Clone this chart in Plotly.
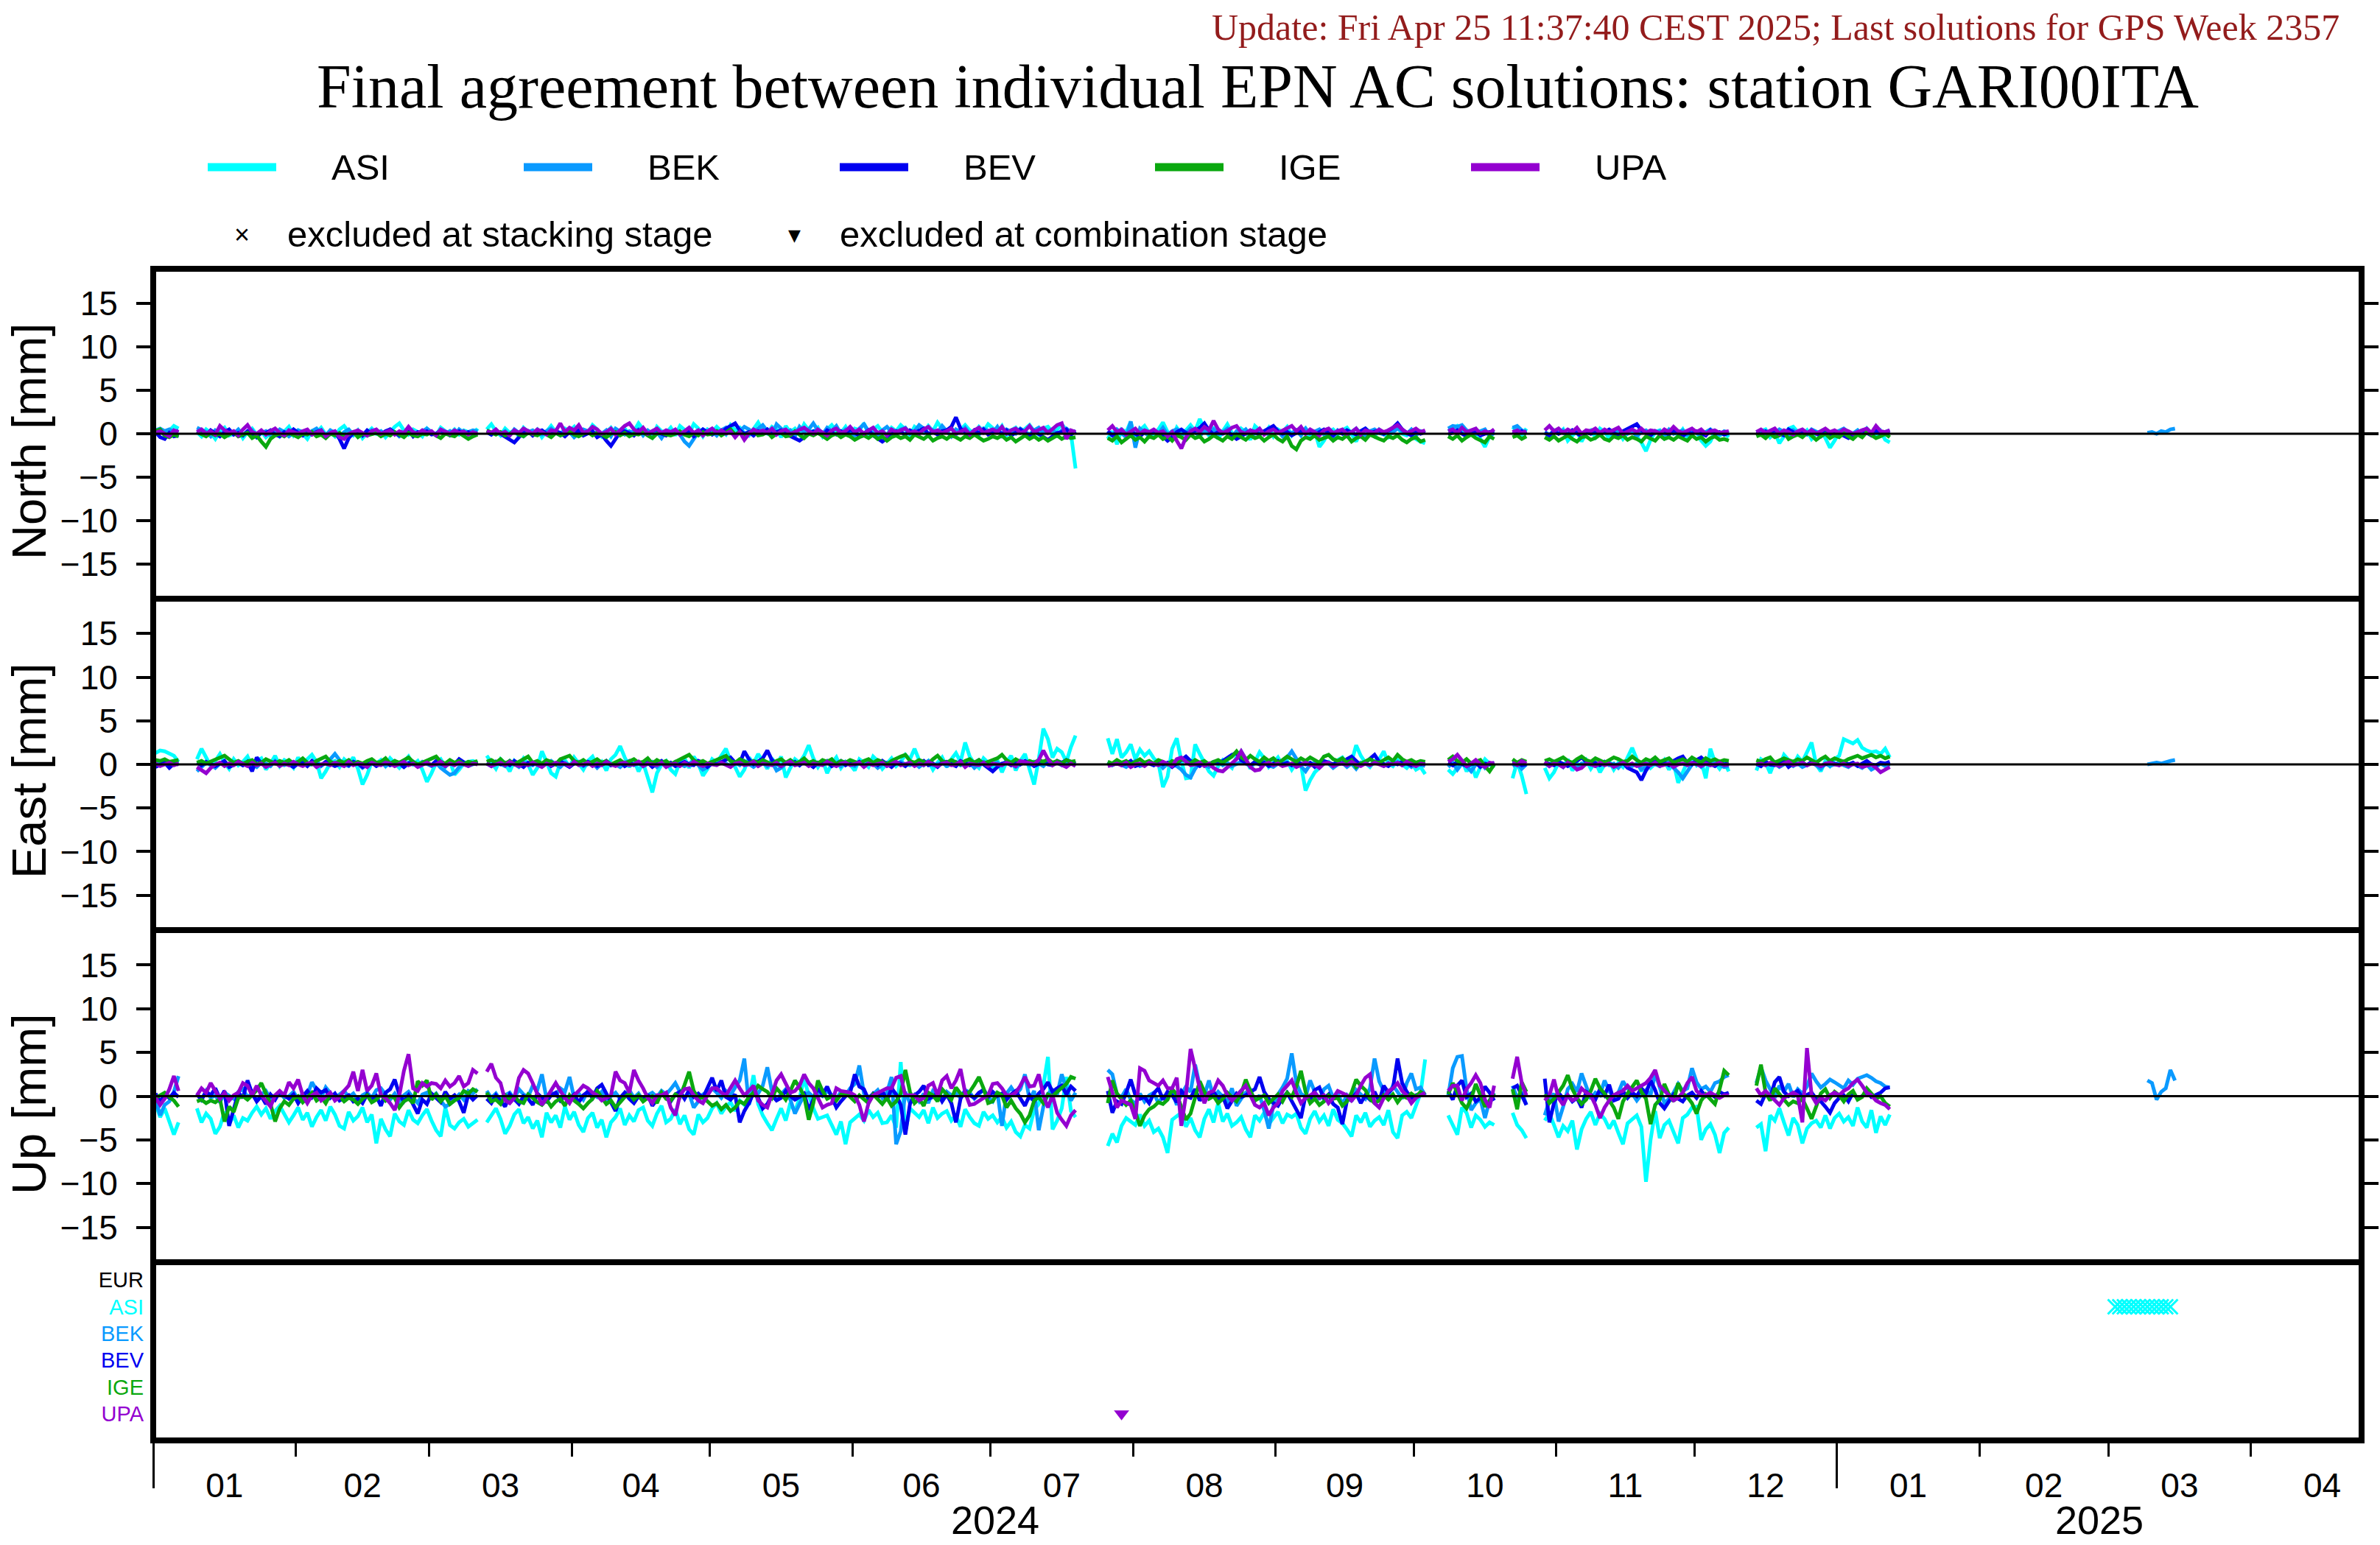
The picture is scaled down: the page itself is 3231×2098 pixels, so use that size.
import pandas as pd
import plotly.graph_objects as go

# ---------------------------------------------------------------- data
# Daily solutions (12:00) are grouped in continuous segments.
SEG_FIRST = ["2024-01-01", "2024-01-10", "2024-03-13", "2024-07-26", "2024-10-08",
             "2024-10-22", "2024-10-29", "2024-12-14", "2025-03-09"]
SEG_LAST = ["2024-01-06", "2024-03-11", "2024-07-19", "2024-10-03", "2024-10-18",
            "2024-10-25", "2024-12-08", "2025-01-12", "2025-03-15"]

ACS = ["ASI", "BEK", "BEV", "IGE", "UPA"]
EXCL_ROWS = ["EUR", "ASI", "BEK", "BEV", "IGE", "UPA"]
ASI_STACK_EXCL = ["2025-03-02", "2025-03-03", "2025-03-04", "2025-03-05", "2025-03-06",
                  "2025-03-07", "2025-03-08", "2025-03-09", "2025-03-10", "2025-03-11",
                  "2025-03-12", "2025-03-13", "2025-03-14"]
UPA_COMB_EXCL = ["2024-07-29"]
MONTH_TICK0 = "2024-01-01"
YEAR_LABELS = ["2024", "2025"]
YEAR_LABEL_AT = ["2024-07-02", "2025-02-27"]
Y_TICKS = [-15, -10, -5, 0, 5, 10, 15]

# residuals in tenths of a millimetre, one list per segment
N_ASI = [
    [3, 5, -2, 4, 9, 6],
    [2, -3, 5, 1, -6, 3, 7, -2, 0, 4, -5, 2, 6, -1, 3, -4, 1, 5, -3, 2,
     8, -2, 4, 0, -6, 3, 1, 7, -1, 2, -3, 5, 9, 2, -2, 4, -5, 1, 6, 0,
     3, -4, 2, 8, 12, 4, -1, 5, 2, -3, 6, 1, -2, 7, 3, 0, 5, -1, 4, 2, -2, 6],
    [5, 11, 3, -2, 6, 1, 4, -3, 7, 2, 0, 5, -4, 3, 9, 2, -1, 6, 3, 8,
     -2, 4, 1, 10, 5, -3, 2, 7, 0, 4, 6, -1, 3, 12, 5, 2, -4, 8, 3, 1,
     7, -2, 9, 4, 0, 11, 6, -3, 5, 2, 8, 3, -1, 10, 4, 7, 1, -2, 6, 13,
     3, 0, 8, 5, -4, 9, 2, 6, -1, 11, 4, 2, 7, -3, 5, 10, 3, 1, 8, -2,
     6, 4, 12, 0, 5, 9, 2, -1, 7, 3, 10, 5, -2, 8, 4, 1, 9, 3, 13, 6,
     2, 7, -1, 5, 10, 4, 0, 8, 3, 11, 6, 2, 9, -2, 4, 7, 1, 5, 10, 3,
     -1, 6, 8, 2, 5, 11, 4, 0, -40],
    [-6, 3, -12, 5, 2, 14, -8, 4, 9, 1, -3, 6, 13, 2, -5, 7, 0, 4, 10, 3,
     17, 5, -2, 8, -6, 3, 11, 1, -4, 6, 2, -7, 9, 4, 0, 7, -3, 5, 2, 8,
     -2, 4, 1, 6, -5, 3, -15, -8, 2, 5, -1, 4, 7, 0, -9, 3, 6, 2, -3, 5,
     1, -4, 3, 7, 0, -2, 4, -6, -9, -11],
    [3, 6, 9, 4, -2, 1, 5, -6, -15, -3, 2],
    [8, 3, -2, 6],
    [2, -3, 4, 0, 5, -8, -2, 3, -9, 1, 4, -4, 6, 2, -5, 0, 3, -6, 1, 5,
     -3, -10, -20, -7, 2, 4, -5, 1, 3, -2, 5, -4, 0, 2, -8, -14, -9, 3, -2, 1, -4],
    [-2, 3, 5, -4, 1, -11, -3, 6, 8, 2, -1, 4, -6, 0, 3, -5, -16, -8, 2, 5,
     -3, 1, 4, -2, 6, 0, -4, 3, -7, -10],
]
N_BEK = [
    [4, 6, 3, 5, 2, 4],
    [7, 5, 2, -3, 4, 1, -2, 3, 0, 5, -1, 2, 4, -4, 1, 3, -2, 0, 5, 2,
     -3, 1, 4, 2, -1, 3, 6, 0, -2, 4, 1, -4, 2, 5, -1, 3, 0, -2, 4, 1,
     3, -1, 5, 2, -3, 0, 4, 1, -2, 3, 6, 2, -1, 4, 0, 3, -2, 5, 1, 2, 4, 3],
    [2, -1, 4, 0, 3, -2, 5, 1, -3, 2, 4, 0, -1, 3, 6, 1, -2, 4, 2, -4,
     1, 5, 3, -1, 2, 0, 4, -3, 6, 2, -1, 3, 1, 5, -2, 4, 0, 2, -5, 3,
     1, 4, -1, -9, -14, -6, 2, 5, 0, 3, -2, 4, 7, 1, -1, 3, 8, 5, 0, 6,
     10, 3, -2, 11, 6, 1, 4, -3, 8, 2, 5, 12, 4, -1, 7, 3, 9, 0, 5, 2,
     -2, 6, 11, 3, 1, -4, 4, 8, 2, -1, 5, 7, 0, 3, 10, 6, -2, 4, 1, 9,
     3, -3, 5, 2, 7, 0, 4, -1, 6, 3, 1, 8, -2, 5, 3, 0, 6, 2, -1, 4,
     7, 1, 3, 5, -2, 4, 6, 2, 3],
    [3, -2, 5, 1, -4, 14, -16, 6, 2, -3, 4, 0, 7, -1, 3, 5, -2, 1, 6, 2,
     -3, 4, 0, 5, -1, 2, 6, -4, 3, 1, 5, -2, 0, 4, 2, -1, 7, 3, -3, 2,
     1, 4, -2, 6, 0, 3, 5, -1, 2, -4, 4, 1, -3, 2, 6, 0, -2, 3, 5, 1,
     -1, 4, 2, 6, 3, 0, 5, -2, 3, 1],
    [6, 9, 8, 10, 4, 2, -1, 3, 5, -3, 1],
    [7, 9, 4, 2],
    [2, -1, 3, 0, 4, -2, 1, 5, -3, 2, 0, 3, -1, 4, 2, -2, 5, 1, 0, 3,
     -3, 2, 4, -1, 1, 3, -2, 5, 0, 2, 4, -1, 3, 1, -2, 2, 5, 0, -1, 3, 1],
    [2, 4, -1, 3, 0, 5, 2, -2, 4, 1, 3, -1, 5, 2, 0, 4, -3, 1, 3, 6,
     2, 0, 4, -2, 3, 1, 5, -1, 2, 4],
    [1, 2, 0, 3, 2, 5, 6],
]
N_BEV = [
    [2, -4, -6, 1, -3, -2],
    [3, 1, -2, 4, 0, -3, 2, 5, -1, 1, -2, 3, 0, -4, 2, 1, 4, -1, -3, 2,
     0, 5, 1, -2, 3, -1, 2, 4, -3, 0, 2, -6, -17, -5, 1, 3, -2, 4, 0, 2,
     -1, 3, 5, 1, -2, 0, 4, -3, 2, 1, 3, -1, 0, 4, 2, -2, 1, 3, 0, 2, -1, 1],
    [2, -1, 3, 0, -3, -6, -10, -4, 1, 3, -2, 2, 4, 0, -1, 3, 1, -3, 2, 0,
     4, -2, 1, 3, -4, -1, -8, -14, -6, 2, 3, 0, -2, 4, 1, -1, 3, 5, 0, -2,
     2, 4, -1, 1, 3, -3, 0, 5, 2, -1, 3, 1, 6, 9, 12, 4, 0, 2, -2, 3,
     1, 5, -1, 2, 4, 0, -3, -5, -8, -4, 0, 3, 1, -2, 4, 2, -1, 3, 0, 5,
     2, -3, 1, 4, -2, -6, -9, -5, 0, 3, 2, -1, 4, 1, 3, 6, 0, 2, -1, 3,
     4, 8, 19, 6, 2, -2, 4, 1, 5, -1, 2, 3, 0, 4, -2, 2, 5, 1, -3, 3,
     0, -4, -7, -3, 1, 2, 5, -1, 3],
    [3, -2, 1, 4, -1, 2, 0, -3, 2, 1, 4, -1, -3, -8, -4, 2, 5, 1, 0, 3,
     7, 12, 4, -1, 2, 0, 3, -2, -6, -3, 1, 4, 2, -1, 3, 6, 9, 3, 0, 2,
     -2, 1, 4, 0, 3, -1, 2, 5, 1, -2, 3, 0, 4, 2, -1, 3, 6, 1, 2, 4,
     0, 3, 7, 12, 5, 1, -2, 3, 0, 2],
    [-1, 2, 4, 0, -3, 1, 3, -2, 0, 2, 1],
    [2, -1, 3, 0],
    [1, -2, 3, 0, 2, -1, 4, 1, -3, 2, 0, 3, -1, 2, 5, 1, -2, 3, 6, 8,
     11, 4, 1, -2, 3, 0, 2, -1, 4, 1, -3, 2, 0, 3, 1, -2, 4, 0, 2, -1, 1],
    [2, -1, 3, 1, 4, 0, -2, 5, 2, -1, 3, 0, 4, 1, -3, 2, -1, 3, 0, -2,
     -5, -1, 2, 4, 1, -2, 3, 0, 2, 1],
]
N_IGE = [
    [3, 5, -2, -4, -1, -3],
    [2, -1, -3, 1, -2, 0, -4, -1, 2, -3, -1, 1, -5, -2, -9, -15, -6, -2, 0, -3,
     1, -2, -4, 0, -1, 2, -3, -1, -5, 0, -2, 1, -3, -1, 2, -4, 0, -2, -1, 1,
     -3, 0, -2, 2, -1, -4, 1, -2, -3, 0, -1, 2, -2, -5, 0, -1, -3, 1, -2, -6, -3, -1],
    [4, 1, -1, 2, -2, 0, 3, -1, -3, 1, 0, -2, 2, -1, -4, 1, -2, 0, 3, -1,
     -3, 0, 2, -2, 1, -1, -4, 0, 2, -2, 1, -3, 0, -1, 2, -2, -5, 0, 1, -1,
     -2, 0, 3, -1, -3, 1, -2, 2, -1, 0, 3, -2, 1, 5, -1, 2, -3, 0, 4, -2,
     -1, 2, -4, 0, 1, -3, -2, 3, -1, -5, 0, -2, 1, -3, -6, -2, 0, -4, -1, -3,
     -7, -4, -2, -5, -1, -6, -3, -8, -4, -2, -5, -3, -7, -1, -4, -6, -2, -8, -5, -3,
     -6, -2, -4, -7, -3, -5, -1, -4, -8, -6, -3, -5, -2, -7, -4, -9, -5, -2, -6, -3,
     -7, -4, -8, -5, -2, -6, -3, -5, -4],
    [-5, -8, -3, -10, -6, -2, -7, -4, -9, -3, -5, -1, -6, -3, -8, -2, -4, -7, -1, -5,
     -3, -9, -6, -2, -5, -8, -3, -6, -1, -4, -7, -2, -5, -3, -8, -4, -1, -6, -9, -3,
     -14, -18, -8, -4, -6, -2, -7, -5, -3, -8, -4, -6, -2, -9, -5, -3, -7, -1, -4, -6,
     -8, -3, -5, -2, -7, -10, -6, -4, -9, -7],
    [-3, -6, -2, -8, -4, -1, -5, -7, -10, -3, -6],
    [-4, -2, -6, -3],
    [-4, -7, -3, -8, -5, -2, -6, -9, -4, -3, -7, -5, -1, -6, -8, -3, -5, -2, -7, -4,
     -6, -9, -3, -5, -8, -2, -6, -4, -7, -3, -5, -8, -2, -6, -4, -9, -5, -3, -7, -6, -8],
    [-3, -1, -5, 0, -4, -2, 2, -6, -3, -1, -4, 1, -2, -7, -3, 0, -5, -2, -4, 1,
     -3, -6, -1, -4, 2, -2, -5, -3, 0, -4],
]
N_UPA = [
    [1, 3, 0, -3, 4, 2],
    [2, 5, 0, 3, -1, 9, 4, 1, 3, -2, 5, 10, 2, 0, 4, -1, 3, 6, 1, -2,
     4, 2, 0, 3, 5, -1, 2, 4, -3, 1, 3, -4, -6, 0, 2, 4, 1, -2, 3, 5,
     0, 2, 4, -1, 3, 1, 8, 2, 0, 4, 1, 3, -2, 5, 2, 0, 4, 1, 3, -1, 2, 0],
    [3, 1, 5, 0, 2, -2, 4, 1, 6, 3, 0, 5, 2, -1, 4, 3, 12, 2, 7, 4,
     10, 1, 3, 8, 5, 0, 2, 6, -1, 4, 9, 12, 5, 2, 7, 0, 3, 6, 1, 4,
     2, 5, -1, 3, 7, 1, 4, -2, 3, 6, 1, 4, 0, 3, -4, 2, -7, 0, 5, 2,
     4, 1, 6, -1, 3, 5, 0, 2, 4, 7, 3, 0, 5, 2, -2, 4, 6, 1, 3, 8,
     2, 5, 0, 4, 7, 1, 3, -2, 5, 2, 4, 6, 1, 3, 0, 5, 8, 2, 4, 1,
     3, 6, 0, 2, 5, -1, 4, 7, 1, 3, 5, 2, 8, 0, 4, 6, 1, 3, 9, 2,
     4, 7, 1, 5, 10, 12, -6, 4, 2],
    [4, 9, 2, 5, -1, 3, 6, 0, 4, 2, 5, 1, 3, -3, 2, -8, -17, -4, 3, 6,
     2, 8, 4, 15, 5, 1, 3, 7, 9, 2, 0, 4, 2, 6, -1, 3, 5, 1, 4, 7,
     9, 3, 8, 0, 5, 2, -2, 4, 6, 1, 3, 5, 0, 2, 6, -1, 4, 3, 1, 5,
     2, 4, 7, 10, 5, 1, 3, 6, 2, 4],
    [3, 5, 1, 7, 2, 4, 6, 0, 3, 1, 5],
    [2, 4, 1, 3],
    [4, 9, 3, 6, 1, 5, 2, 7, 0, 4, 3, 6, 1, 5, 2, 4, 7, 0, 3, 5,
     2, 6, 1, 4, 3, 0, 5, 2, 8, 3, 1, 4, 6, 2, 5, 0, 3, 4, 1, 2, 3],
    [2, 5, 1, 3, 6, 0, 4, 2, -1, 3, 5, 1, 4, 0, 3, 6, 2, 4, 1, 5,
     3, 0, 2, 4, 6, 1, 9, 3, 2, 4],
]

E_ASI = [
    [13, 16, 15, 12, 10, 3],
    [6, 18, 8, -2, 4, 12, 2, -5, 6, -1, 3, 9, -3, 4, 7, -6, 1, 10, -2, 5,
     2, -4, 8, 0, 6, 11, 3, -16, -8, 2, 4, -3, 6, 1, 8, -5, -23, -12, 3, 1,
     5, -2, 7, 2, -4, 3, 9, 0, 4, -6, -20, -10, 2, 6, -3, 4, -12, -6, 1, 3, 4, 2],
    [10, 3, -5, 6, 1, -8, 4, -2, 7, 0, -12, -4, 15, 3, -10, -14, 2, 5, -3, 8,
     1, -6, 4, 9, -2, 3, -7, 6, 11, 21, 8, -3, 5, -8, 2, -15, -32, -10, 0, 4,
     -6, -11, 3, 7, -4, 9, 1, -13, -5, 6, 2, 10, 18, 4, -3, -14, -6, 8, 1, 12,
     3, -5, 7, -2, 9, -15, -4, 6, 2, 10, 22, 7, -3, 5, -10, 1, 8, -4, 3, 0,
     -7, 6, 2, -3, 9, 4, -5, 1, 7, -2, 3, 11, 6, 18, 5, -1, 4, -6, 2, 8,
     -3, 6, 13, 3, 25, 9, 1, -4, 7, 2, -5, 5, -9, 3, 10, -7, 4, 12, -6, -23,
     6, 41, 29, 8, 18, 14, 3, 20, 33],
    [30, 12, 29, 8, 14, 23, 6, 17, 10, 15, 7, 2, -26, -14, 18, 30, 4, -16, -15, 23,
     12, 3, -8, -13, -2, 5, 1, -4, 9, 15, 6, -5, 3, 14, 7, -3, 2, 8, -1, 4,
     -6, 2, 0, -30, -18, -9, -4, 1, 3, -2, 5, 8, 1, 3, 22, 10, 2, -3, 4, 6,
     15, 1, -2, 5, 0, -4, 2, -6, -3, -11],
    [-6, -11, -4, 5, -8, 2, -15, -3, 6, 1, -4],
    [-16, 3, -13, -34],
    [-4, -16, -9, 2, -3, 6, -7, 1, -2, 5, -5, 3, -9, 0, 4, -6, 2, -3, 8, 19,
     6, -8, 3, -4, 1, -2, 5, -6, 2, -21, -9, 3, 7, -1, 4, -16, 18, 2, -5, 3, -8],
    [-7, 6, 2, -10, 4, -3, 11, 5, -1, 9, 3, 14, 25, 0, -8, 4, -2, 6, 10, 29,
     26, 24, 28, 19, 16, 14, 15, 12, 18, 8],
]
E_BEK = [
    [3, 2, 4, 1, 3, 2],
    [-8, -3, 2, 0, -4, 1, 3, -2, 0, 2, -1, 3, 0, -3, 2, 1, -2, 4, 0, -1,
     2, -3, 1, 3, -1, 0, 4, -2, 2, 6, 12, 5, 0, -2, 3, 1, -4, 0, 2, -1,
     3, -2, 1, 4, 0, -3, 2, 1, -1, 3, 0, -2, 2, -4, -8, -12, -10, -3, 1, -2, 0, 2],
    [2, -1, 3, 0, -2, 4, 1, -3, 2, 0, -1, 3, -2, 1, 4, 0, -3, 2, -1, 1,
     3, -2, 0, 2, -4, 1, 3, -1, 0, -3, 2, 4, -1, 1, -2, 0, 3, -3, 1, 2,
     -1, 3, 0, -2, 1, 4, -1, -6, -3, 2, 0, 3, 1, -2, 2, -1, 4, 0, -3, 1,
     2, -2, 3, -7, -4, 1, 0, 2, -1, 3, 1, -3, 2, 0, 4, -1, 1, -2, 3, 0,
     -2, 2, -1, 3, 1, -4, 0, 2, -2, 1, 3, 0, -1, 2, -3, 1, 4, -1, 0, 2,
     -2, 1, 3, -1, 0, 2, -4, 1, 3, -2, 0, 2, -1, 4, 1, -3, 0, 2, -1, 3,
     1, -2, 4, 0, 2, -1, 3, 1, 2],
    [3, -1, 2, 0, -3, 1, 4, -2, 0, 2, -1, 3, -4, 1, 0, -2, -6, -12, -15, -5,
     2, 0, -3, 1, 4, -1, 2, -2, 0, 3, 1, -2, 2, 0, 3, -1, -3, 1, 4, 8,
     15, 6, -2, -8, 0, 2, -1, 3, 1, -4, 0, 2, -3, 1, -5, 2, 0, -1, 3, 1,
     -2, 2, 0, 3, -1, 1, -3, 2, 0, -2],
    [-3, 2, -6, 1, -2, -8, 0, 3, -4, 1, -1],
    [-2, 1, -5, 0],
    [1, -2, 3, 0, -3, 2, -1, -5, 1, 0, 2, -2, 0, 3, -1, 1, -4, 2, 0, -2,
     1, -6, -3, 2, 0, -2, 1, 3, -4, -9, -16, -7, 0, 2, -3, 1, -1, 2, 0, -3, -2],
    [0, -2, 2, -1, 1, -3, 0, 2, -2, 1, -3, 0, 2, -1, -5, 1, -2, 0, 2, -1,
     -3, 1, -2, -4, 0, -6, -3, 1, -2, 0],
    [0, 1, 2, 1, 3, 4, 5],
]
E_BEV = [
    [-3, -1, 2, -4, 1, 0],
    [2, -1, 3, 0, -2, 1, 4, -3, 0, 2, -1, 3, -8, 8, 1, -2, 0, 3, -1, 2,
     0, -3, 1, 2, -2, 4, 0, -1, 3, 1, -2, 0, 2, -1, 3, 1, -3, 0, 2, -2,
     1, 4, -1, 0, 2, -3, 1, 3, -2, 0, 2, -1, 4, 1, -2, 3, 0, 6, 2, -1, 1, 3],
    [1, -2, 3, 0, 2, -1, 4, 1, -3, 2, 0, 3, -1, 2, -2, 1, 4, 0, -3, 1,
     2, -1, 3, 1, -2, 0, 4, -1, 2, 3, -2, 1, 0, 3, -1, 2, -3, 1, 4, 0,
     2, -2, 1, 3, 0, -1, 4, 2, -3, 1, 0, 3, 5, 8, 2, 1, 15, 6, 0, 3,
     7, 16, 5, 1, -2, 2, 0, 3, -1, 4, 1, -3, 2, 0, 3, -2, 1, 4, -1, 2,
     0, 3, -2, 1, 2, -1, 4, 0, -3, 2, 1, -2, 3, 0, 2, 4, -1, 1, -3, 2,
     3, 0, -2, 4, 1, -1, 2, 5, 0, -4, -8, -3, 1, 2, -1, 3, 0, 4, 2, -2,
     1, 3, 0, -1, 4, 2, 5, 3, 1],
    [2, 0, 3, -1, 1, 4, -2, 0, 2, 1, -1, 3, 0, 2, -3, 1, 5, 9, 4, 1,
     -2, 2, 0, 3, 1, 4, 8, 11, 13, 5, 2, -1, 3, 0, 2, -2, 1, 4, 0, 2,
     -1, 3, 1, 0, 2, -3, 1, 4, 2, 0, 3, 1, 6, 9, 4, -1, 2, 7, 11, 3,
     1, -2, 2, 0, 3, 1, -1, 2, 0, 1],
    [2, -1, 3, 1, -2, 0, 2, -3, 1, 0, 2],
    [1, 2, -1, 0],
    [2, 0, -1, 3, 1, -2, 2, 4, 8, 3, 0, 2, -1, 3, 1, -2, 0, 2, -4, -6,
     -9, -18, -7, 1, 3, 0, 2, -1, 4, 7, 9, 2, 0, 5, 8, 3, 1, -2, 2, 0, 1],
    [1, -2, 3, 0, -1, 2, 4, -3, 1, 0, 2, -1, 3, 1, -2, 0, 2, 1, -1, 3,
     0, 2, -2, 1, 4, 0, -1, 2, 1, 3],
]
E_IGE = [
    [5, 4, 6, 3, 4, 5],
    [2, 4, 1, 3, 5, 8, 10, 6, 2, 4, 1, 3, 5, 0, 2, 6, 3, 1, 4, 2,
     5, 1, 3, 7, 2, 0, 4, 6, 9, 3, 1, 4, 2, 5, 0, 3, 1, 4, 6, 2,
     3, 7, 1, 4, 2, 5, 8, 3, 0, 2, 4, 6, 9, 3, 1, 5, 2, 4, 0, 3, 2, 4],
    [3, 5, 2, 6, 1, 4, 0, 3, 7, 9, 2, 4, 1, 5, 3, 0, 6, 8, 10, 4,
     2, 5, 1, 3, 6, 2, 4, 0, 3, 5, 1, 4, 6, 2, 3, 7, 1, 5, 2, 4,
     0, 3, 6, 9, 11, 5, 2, 4, 1, 3, 5, 8, 10, 4, 2, 6, 3, 1, 4, 2,
     5, 3, 0, 4, 6, 2, 5, 1, 3, 7, 2, 4, 1, 5, 3, 6, 0, 4, 2, 5,
     3, 1, 4, 6, 2, 5, 3, 0, 4, 7, 9, 11, 4, 2, 5, 3, 1, 6, 10, 4,
     2, 5, 3, 0, 4, 6, 2, 5, 1, 3, 4, 7, 11, 5, 2, 6, 3, 1, 4, 2,
     5, 3, 6, 2, 4, 1, 5, 3, 4],
    [3, 1, 5, 2, 4, 0, 3, 6, 2, 4, 1, 5, 3, 0, 4, 2, 6, 3, 1, 5,
     2, 4, 0, 3, 5, 2, 6, 9, 15, 8, 5, 10, 6, 3, 8, 4, 7, 2, 5, 9,
     6, 3, 7, 4, 8, 5, 2, 9, 11, 6, 4, 7, 2, 5, -3, 1, 4, 6, 3, 2,
     5, 8, 4, 11, 6, 3, 5, 2, 4, 3],
    [5, 9, 4, 2, 6, 1, 3, 5, -2, -8, 0],
    [6, 2, 5, 3],
    [4, 6, 3, 5, 8, 4, 2, 6, 9, 5, 3, 7, 4, 2, 5, 8, 6, 3, 4, 9,
     5, 2, 6, 4, 8, 3, 5, 7, 2, 4, 6, 3, 8, 5, 2, 7, 4, 6, 3, 5, 4],
    [5, 3, 6, 8, 2, 4, 7, 5, 3, 6, 4, 8, 5, 2, 6, 9, 4, 7, 5, 3,
     6, 8, 10, 7, 9, 11, 8, 10, 7, 9],
]
E_UPA = [
    [1, -2, 0, 2, -1, 1],
    [-3, -6, -10, -4, 0, 2, -2, 1, -1, 3, 0, -2, 2, -1, 1, -3, 0, 2, -2, 1,
     -1, 3, 0, -2, 1, 2, -3, 0, 1, -1, 2, 0, -2, 3, -1, 1, 0, -3, 2, 0,
     -1, 2, 1, -2, 0, 3, -1, 1, -3, 0, 2, -1, 0, 3, -2, 1, -1, 2, 0, -2, 1, 0],
    [1, -2, 0, 2, -1, 3, 0, -2, 1, -1, 2, 0, -3, 1, -1, 2, 0, 1, -2, 3,
     -1, 0, 2, -2, 1, -1, 3, 0, -2, 1, 2, -1, 0, 3, -2, 1, 0, -1, 2, -3,
     0, 1, -2, 2, -1, 3, 0, -2, 1, 0, -1, 2, 0, -3, 1, 2, -1, 0, 3, -2,
     1, 0, -1, 2, -2, 1, 3, -1, 0, 2, -2, 1, 0, -1, 3, 0, -2, 1, 2, -1,
     0, 2, -3, 1, -1, 0, 2, -2, 1, 3, -1, 0, 2, -2, 1, -1, 3, 0, -2, 1,
     2, -1, 0, 3, -3, 1, 0, -1, 2, -2, 1, 0, -1, 2, 0, -2, 4, 3, 1, 0,
     5, 16, 6, -1, 2, 0, -3, 1, -2],
    [-2, 0, 1, -1, 2, -3, 0, 1, -2, 2, 0, -1, 3, 1, -2, 6, 8, 3, -1, 0,
     2, -2, 1, -4, -7, -8, -3, 1, 6, 15, 5, -3, -7, -6, 0, 2, -1, 1, -2, 0,
     1, -3, 0, 2, -1, 0, -4, 1, 2, -2, 0, 1, -1, 3, 0, -2, 1, -1, 2, 0,
     -2, 1, 0, 2, -1, 3, 0, -2, 1, 0],
    [3, 6, 11, 4, -2, 1, 5, 0, -3, 2, 1],
    [2, -1, 4, 1],
    [3, -2, 1, 0, -3, 2, -1, -6, -4, 1, 0, -2, 2, -1, 1, -3, 0, 2, -1, 1,
     -2, 0, 1, -1, 2, -2, 0, 1, -3, 0, 1, -1, 2, 0, -2, 1, -1, 0, 2, -1, 0],
    [0, 1, -1, 2, 0, -2, 1, 3, -1, 0, 2, -1, 1, 0, -2, 1, 2, 0, -1, 1,
     -2, 0, 1, -3, -1, 0, -4, -9, -6, -3],
]

U_ASI = [
    [-8, -24, -14, -28, -44, -30],
    [-14, -30, -20, -26, -43, -35, -18, -32, -22, -36, -25, -28, -19, -12, -21, -14, -26, -17, -11, -20,
     -30, -22, -13, -27, -19, -35, -24, -16, -28, -12, -21, -34, -37, -18, -28, -23, -13, -30, -21, -54,
     -26, -38, -46, -20, -29, -33, -16, -27, -31, -22, -15, -28, -39, -46, -13, -33, -37, -30, -26, -35,
     -31, -27],
    [-30, -22, -14, -26, -43, -34, -21, -15, -31, -24, -37, -28, -47, -19, -30, -22, -36, -12, -27, -18,
     -33, -41, -25, -19, -36, -27, -47, -30, -24, -14, -33, -22, -29, -16, -13, -28, -34, -20, -11, -30,
     -26, -15, -32, -22, -38, -44, -21, -30, -25, -14, -8, -20, -12, -7, -17, -5, -10, -3, 24, -9,
     -22, -31, -39, -26, -14, -28, -8, -18, -2, 20, 1, -14, -26, -24, -22, -33, -44, -29, -55, -30,
     -25, -21, -28, -16, -24, -19, -31, -30, -22, -36, 39, -40, -14, -19, -24, -16, -31, -13, -25, -20,
     -17, -28, -22, -35, -15, -24, -31, -34, -18, -26, -22, -30, -24, -36, -29, -41, -46, -33, -37, -16,
     -9, 12, 45, -38, -28, -14, 22, -17, -24],
    [-57, -43, -53, -34, -25, -29, -33, -21, -34, -28, -41, -37, -47, -65, -27, -23, -19, -35, -25, -39,
     -47, -26, -15, -30, -8, -29, -20, -34, -30, -24, -38, -47, -22, -28, -19, -32, -25, -18, -31, -21,
     -24, -20, -36, -43, -26, -17, -29, -22, -34, -15, -27, -31, -38, -46, -22, -30, -19, -35, -28, -24,
     -33, -16, -41, -48, -22, -18, -25, -10, 3, 42],
    [-22, -32, -44, -13, -19, -36, -22, -27, -35, -30, -33],
    [-19, -33, -39, -48],
    [-28, -20, -33, -47, -34, -40, -28, -61, -38, -26, -18, -33, -20, -26, -37, -28, -42, -55, -31, -27,
     -22, -35, -98, -50, -17, -48, -33, -28, -40, -54, -25, -21, -13, -12, -50, -38, -32, -44, -65, -42,
     -36],
    [-36, -32, -63, -22, -28, -14, -30, -45, -25, -33, -54, -37, -31, -28, -36, -22, -37, -25, -20, -29,
     -24, -34, -13, -29, -36, -16, -42, -23, -33, -21],
]
U_BEK = [
    [-3, -22, -10, -6, 5, 23],
    [3, -4, 6, -2, 1, -7, 4, 0, -3, 5, 8, -1, 3, -5, 2, 6, -3, 1, 4, -2,
     0, 5, -4, 3, 1, 16, 7, -2, 10, 4, -3, 2, 6, -1, 3, -5, 1, 4, -2, 7,
     9, 2, -4, 3, -6, 1, 5, -2, -8, 2, 4, -1, 3, -5, -12, -9, -3, 2, -4, 6,
     3, 8],
    [6, -2, 3, -5, 1, 4, -3, 8, 2, -1, 12, 7, 25, -3, 4, 1, 9, 5, 22, -2,
     3, -4, 6, 2, -1, 5, -6, 0, 4, -3, 2, 7, -2, 3, -5, 1, 4, -1, 6, 2,
     8, 15, 5, -2, 3, -13, -6, 2, 5, 9, 4, -2, 6, 1, 10, 18, 43, -10, 8, 3,
     12, 33, 5, -3, 2, 8, -4, -20, -9, 1, 4, -1, 3, 0, 6, 2, -3, 5, 1, 9,
     14, 35, 3, -1, 2, 7, -2, 4, 22, -55, -40, 5, -8, 1, -6, 3, -8, 6, 2, -4,
     5, 1, 3, -2, 7, 4, -3, 2, 8, -1, -6, 5, -34, 3, 10, 2, 8, 25, -4, 6,
     -39, -12, 3, 7, 2, 25, 8, -5, 4],
    [30, 25, 2, -1, 8, -4, -9, 3, -6, 1, 4, -8, 0, -3, 6, -10, 2, 11, 5, 36,
     12, 1, 18, -2, 5, 0, -6, 9, -11, -3, 4, 7, -5, 1, -16, -37, -11, 2, 10, 20,
     49, 15, 3, -1, 18, 5, -4, 8, 12, -2, 3, -9, 1, -6, 7, 2, -3, 9, 43, 17,
     6, 1, 12, 5, -3, 15, 26, 8, 10, 1],
    [0, 32, 45, 46, 8, -16, -8, -3, -25, -5, 4],
    [12, -2, 5, -10],
    [-22, -5, 3, -29, -12, 8, 14, 5, 26, 12, -3, 4, 1, 18, 6, -2, 4, 17, 9, 3,
     -5, 2, 7, 1, 26, 10, -8, -3, 4, 14, 6, 9, 32, 16, 8, 11, 5, 15, 17, 22,
     24],
    [15, 33, 18, 7, -2, 12, 5, 14, -1, 8, 3, 11, 26, 17, 10, 14, 19, 16, 12, 9,
     18, 13, 20, 22, 24, 21, 17, 15, 11, 10],
    [18, 15, -4, 5, 9, 30, 18],
]
U_BEV = [
    [3, -6, 1, -2, 4, -1],
    [2, -4, 5, 1, 9, -3, 6, -34, -15, 4, -2, 18, 3, -6, 0, -9, 2, -4, 5, 1,
     -3, 2, -8, 0, 6, -1, 9, 4, 7, -2, 3, -5, -2, 1, -6, -3, -8, 2, -5, 0,
     -11, 4, 8, 19, 2, -6, 1, -10, -20, -4, -9, 3, -2, -7, 5, -3, 1, -6, -19, 2,
     -4, 1],
    [-3, -8, 1, -6, -12, 2, -4, -9, 0, -3, -10, 3, -2, -6, 1, 4, -5, 0, -3, 2,
     -7, 1, 5, -2, 9, 13, 3, -6, -17, -2, 4, -3, -8, 0, -5, 2, -11, -4, 3, -1,
     -6, 2, 5, -3, 7, -1, 3, -2, 10, 21, 6, 18, -1, -4, 2, -30, -17, -8, 4, -2,
     -14, -9, 1, -5, -2, 6, 0, -4, -1, 3, -16, -3, 9, 2, 11, -1, -13, -6, 0, 4,
     25, 11, 8, -4, 3, -2, 6, -5, 9, 2, -10, -44, -9, 1, 5, 12, -3, -1, 4, -6,
     2, -8, -30, -3, 6, 1, -2, 4, 7, -1, 5, 0, 3, -4, 2, 6, -3, -11, 1, -6,
     3, 8, 16, 5, 9, 12, 2, 11, 6],
    [6, -19, -6, -9, 4, 19, 1, -3, -1, -8, 3, 9, -4, 5, 1, -7, 6, 0, -2, 8,
     -5, 2, -1, 5, -3, 0, -14, -6, 3, -1, 1, 5, 8, 22, 5, -3, -8, -11, -2, 4,
     -6, -15, -25, 1, -4, 7, 10, -3, 2, -9, -13, -32, -5, -2, 3, -8, 1, -4, 5, -6,
     12, 4, 9, 43, 15, 5, -2, 1, 3, 1],
    [6, -4, 12, 18, -1, 3, -6, -2, 11, 4, -5],
    [9, 12, 1, -10],
    [20, -30, -8, 4, -3, 1, -6, -2, -13, 5, 2, -4, 8, 1, 13, -5, -3, 6, -2, 4,
     0, 9, 3, 18, 7, -8, -14, -5, 2, -3, -6, 1, 4, -2, 6, 0, 3, -1, 5, 2,
     4],
    [-5, -9, 3, -2, 16, 22, 5, 0, 3, 6, -1, 2, 4, -3, -6, -12, -19, -8, -2, 1,
     -6, 4, -3, 0, 5, -1, 2, 4, 9, 10],
]
U_IGE = [
    [-2, 1, 4, -1, -5, -12],
    [-6, -4, -8, -5, -7, -3, -29, -12, -18, -2, 0, -4, 1, 7, 15, 3, -9, -29, -14, -6,
     -10, -3, 0, -7, -2, 4, -5, -1, -8, 2, -3, 0, -6, -2, -4, -9, -3, 1, -7, -4,
     2, -5, 0, -2, -13, -6, -3, -8, 17, 12, 18, -4, 2, -6, 0, -9, -5, -2, 6, 3,
     8, 5],
    [4, -6, -4, -9, 1, -3, 0, -6, -8, 2, -2, -7, -10, -4, -12, -6, -3, -11, 1, -5,
     -9, -14, -8, -3, 6, -2, -9, -5, -13, -7, -1, 3, -4, 1, -6, -2, 0, -8, 4, -3,
     -5, 2, -1, 13, 28, 6, -3, -1, -6, -11, -8, -15, -10, -17, -13, -6, -9, -1, 4, 12,
     8, 5, -2, 9, 3, -4, 6, 18, 10, 0, -27, -8, 18, 6, -3, 0, -5, 2, 4, -1,
     -6, 1, -3, -8, 2, -4, -9, -2, -11, -6, 3, 30, 5, -8, -3, -11, 4, 1, -6, 8,
     2, -4, 10, 3, 1, 5, 13, 22, 9, -8, -6, 4, 1, -13, -5, -14, -20, -30, -22, -5,
     -1, -8, 2, 0, 5, 9, 14, 22, 20],
    [-8, 18, 3, -4, -10, -5, -18, -34, -22, -15, -12, -7, -9, -4, 8, 2, -14, -27, -20, -2,
     17, 5, -3, 0, -8, -3, 4, -1, -6, 3, 19, 6, -5, -2, 1, -8, -3, 2, -6, 4,
     -1, 11, 29, 5, -8, -3, -10, -6, 1, -3, -2, -11, -6, 4, 19, 12, 7, -3, -8, -5,
     1, -4, 2, -7, 0, -2, 3, -1, 5, 2],
    [2, 15, 4, -8, -14, -3, 14, 1, -12, -5, 3],
    [8, -15, 16, 5],
    [2, -8, -3, 4, 12, 24, 8, -2, -9, -4, 6, 20, 9, 3, -5, -13, -26, -6, 3, 10,
     18, 5, -3, -32, -10, -4, 14, 2, -6, 15, 3, -1, -8, -20, -5, 2, -4, -9, 8, 29,
     24],
    [12, 36, 4, -5, 9, 2, -4, -10, -6, -8, -3, -14, -26, -12, 3, 8, -2, 5, 1, -6,
     2, 6, -4, -1, 9, 3, -3, 0, -8, -12],
]
U_UPA = [
    [-2, -10, -3, 8, 23, 6],
    [1, 9, 4, 15, 6, -3, 4, -5, 1, 4, 15, 12, 1, 12, 1, -5, -12, 1, 6, 1,
     16, 9, 19, 1, -8, 1, 4, -5, -1, 4, -5, -1, 6, 12, 28, 6, 30, 6, 12, 26,
     1, -2, -8, -16, 1, 29, 48, 9, 6, 15, 11, 15, 14, 9, 18, 11, 15, 23, 11, 15,
     30, 26],
    [28, 37, 21, 15, -5, -8, -2, 21, 30, 26, 15, 1, -10, -2, 6, 15, 6, -2, -8, 1,
     6, 12, 9, 4, 1, -5, -2, 1, 28, 18, 15, 4, 30, 18, 9, -2, -8, 1, 1, 4,
     -13, -22, 1, 8, 9, 1, -5, -8, 1, 9, 9, 4, 1, 9, 18, 9, 1, 6, 12, -5,
     -10, -13, 4, 18, 25, 15, 4, 6, 12, 25, 15, 9, -2, -13, -10, -8, 9, 6, 5, 4,
     1, -10, -29, -8, 1, 4, 6, 9, 9, 21, 23, 1, 1, 1, -5, -2, 12, 15, 1, 18,
     23, 9, 18, 31, 4, -10, -9, -5, -2, 1, 14, 15, 9, 1, 1, 4, 12, 22, 11, 12,
     25, 1, -13, 1, -19, -27, -34, -22, -16],
    [22, 6, -13, -5, -8, -10, -26, 32, 29, 18, 15, 12, 18, 9, 9, 21, -34, 1, 54, 29,
     9, -8, 4, 6, 18, 12, 1, -5, 1, 6, 12, 1, -10, -13, -8, -22, -13, -8, 6, 12,
     18, 4, -8, -2, 1, 4, -2, 1, -8, -2, 6, 4, 1, -5, 1, 12, 21, 25, -8, -13,
     -2, 6, 9, 15, 6, 1, -8, -2, 1, 4],
    [6, 12, 12, -5, 8, 15, 24, 15, -4, -13, 12],
    [20, 45, 15, 1],
    [-5, 1, 19, -2, -10, 1, -5, -2, 9, 4, 1, -10, -25, -13, -5, 1, 4, 6, 12, 6,
     9, 12, 15, 21, 30, 12, 6, 1, -5, -2, 4, 15, 22, 6, 1, 1, 4, 1, -2, 1,
     1],
    [9, 1, 6, 1, -5, -10, -2, 1, 4, 1, -30, 55, 1, -8, -2, -5, 1, 4, 1, 6,
     9, 15, 19, 12, 4, 1, -5, -8, -10, -15],
]

# ---------------------------------------------------------------- helpers
COLORS = {"ASI": "#00FFFF", "BEK": "#0A9AFF", "BEV": "#0000F0",
          "IGE": "#0AA80F", "UPA": "#9400D0"}
COMPONENTS = [
    ("North [mm]", {"ASI": N_ASI, "BEK": N_BEK, "BEV": N_BEV, "IGE": N_IGE, "UPA": N_UPA}),
    ("East [mm]", {"ASI": E_ASI, "BEK": E_BEK, "BEV": E_BEV, "IGE": E_IGE, "UPA": E_UPA}),
    ("Up [mm]", {"ASI": U_ASI, "BEK": U_BEK, "BEV": U_BEV, "IGE": U_IGE, "UPA": U_UPA}),
]


def series_xy(segments):
    xs, ys = [], []
    for i, vals in enumerate(segments):
        days = pd.date_range(SEG_FIRST[i], SEG_LAST[i], freq="D")
        for d, v in zip(days, vals):
            xs.append(d.strftime("%Y-%m-%d 12:00"))
            ys.append(v / 10.0)
        xs.append(None)
        ys.append(None)
    return xs, ys


W, H = 3231, 2098
L, R, T, B = 208, 3206, 365, 1956          # plot area in page pixels
EDGES = [365, 813, 1263, 1714, 1956]       # panel borders (top..bottom)


def px(x):
    return (x - L) / (R - L)


def py(y):
    return (B - y) / (B - T)


XR = ["2024-01-01", "2025-04-25 01:30"]
SANS = "Liberation Sans"
SERIF = "Liberation Serif"

fig = go.Figure()

for k, (label, data) in enumerate(COMPONENTS, start=1):
    xa = "x" if k == 1 else f"x{k}"
    ya = "y" if k == 1 else f"y{k}"
    for ac in ACS:
        xs, ys = series_xy(data[ac])
        fig.add_trace(go.Scatter(x=xs, y=ys, mode="lines", xaxis=xa, yaxis=ya,
                                 line=dict(color=COLORS[ac], width=5),
                                 connectgaps=False, showlegend=False, hoverinfo="skip"))

# exclusion panel
row_y = {name: len(EXCL_ROWS) - 1 - i for i, name in enumerate(EXCL_ROWS)}
fig.add_trace(go.Scatter(x=[d + " 12:00" for d in ASI_STACK_EXCL],
                         y=[row_y["ASI"]] * len(ASI_STACK_EXCL),
                         mode="markers", xaxis="x4", yaxis="y4", showlegend=False,
                         marker=dict(symbol="x-thin", size=20, color=COLORS["ASI"],
                                     line=dict(width=3, color=COLORS["ASI"])),
                         hoverinfo="skip"))
fig.add_trace(go.Scatter(x=[d + " 12:00" for d in UPA_COMB_EXCL],
                         y=[row_y["UPA"]] * len(UPA_COMB_EXCL),
                         mode="markers", xaxis="x4", yaxis="y4", showlegend=False,
                         marker=dict(symbol="triangle-down", size=18, color=COLORS["UPA"]),
                         hoverinfo="skip"))
# carrier for the year tick axis
fig.add_trace(go.Scatter(x=[XR[0]], y=[None], xaxis="x5", yaxis="y4", mode="lines",
                         showlegend=False, hoverinfo="skip"))

layout = dict(width=W, height=H, margin=dict(l=L, r=W - R, t=T, b=H - B, pad=0),
              paper_bgcolor="white", plot_bgcolor="white",
              font=dict(family=SANS, color="black", size=46), showlegend=False)

for k in range(1, 5):
    top, bot = EDGES[k - 1], EDGES[k]
    xname = "xaxis" if k == 1 else f"xaxis{k}"
    yname = "yaxis" if k == 1 else f"yaxis{k}"
    xid = "x" if k == 1 else f"x{k}"
    yid = "y" if k == 1 else f"y{k}"
    xa = dict(domain=[0, 1], anchor=yid, range=XR, type="date", showgrid=False,
              zeroline=False, showline=False)
    if k < 4:
        xa.update(showticklabels=False, ticks="")
        ya = dict(domain=[py(bot), py(top)], anchor=xid, range=[-19, 19],
                  tickmode="array", tickvals=Y_TICKS, ticks="outside", ticklen=22,
                  tickwidth=4, tickcolor="black", mirror="ticks", showgrid=False,
                  zeroline=False, showline=False, tickfont=dict(size=46),
                  ticklabelstandoff=16)
    else:
        xa.update(tickmode="linear", tick0=MONTH_TICK0, dtick="M1", tickformat="%m",
                  ticklabelmode="period", ticks="outside", ticklen=21, tickwidth=3,
                  tickcolor="black", tickfont=dict(size=46), ticklabelstandoff=0)
        ya = dict(domain=[py(bot), py(top)], anchor=xid, range=[-1.0, 5.667],
                  tickmode="array", tickvals=[row_y[n] for n in EXCL_ROWS],
                  ticktext=[f'<span style="color:{COLORS.get(n, "#000000")}">{n}</span>'
                            for n in EXCL_ROWS],
                  ticks="", showgrid=False, zeroline=False, showline=False,
                  tickfont=dict(size=29), ticklabelstandoff=12)
    layout[xname] = xa
    layout[yname] = ya

layout["xaxis5"] = dict(overlaying="x4", anchor="y4", range=XR, type="date",
                        tickmode="linear", tick0=MONTH_TICK0, dtick="M12", ticks="outside",
                        ticklen=64, tickwidth=3, tickcolor="black", showticklabels=False,
                        showgrid=False, zeroline=False, showline=False, side="bottom")

shapes = []
for k in range(4):
    shapes.append(dict(type="rect", xref="paper", yref="paper", x0=0, x1=1,
                       y0=py(EDGES[k + 1]), y1=py(EDGES[k]),
                       line=dict(color="black", width=8), fillcolor="rgba(0,0,0,0)",
                       layer="above"))
for k in range(1, 4):
    xid = "x" if k == 1 else f"x{k}"
    yid = "y" if k == 1 else f"y{k}"
    shapes.append(dict(type="line", xref=f"{xid} domain", yref=yid, x0=0, x1=1, y0=0, y1=0,
                       line=dict(color="black", width=3), layer="above"))

annotations = []
# legend row 1
LEG_X = [282, 711, 1140, 1568, 1997]
for ac, x0 in zip(ACS, LEG_X):
    shapes.append(dict(type="line", xref="paper", yref="paper", x0=px(x0), x1=px(x0 + 93),
                       y0=py(227), y1=py(227), line=dict(color=COLORS[ac], width=11)))
    annotations.append(dict(xref="paper", yref="paper", x=px(x0 + 166), y=py(227),
                            text=ac, showarrow=False, xanchor="left", yanchor="middle",
                            font=dict(size=49, family=SANS)))
# legend row 2
annotations += [
    dict(xref="paper", yref="paper", x=px(328), y=py(318), text="×", showarrow=False,
         xanchor="center", yanchor="middle", font=dict(size=36, family=SANS)),
    dict(xref="paper", yref="paper", x=px(388), y=py(318), text="excluded at stacking stage",
         showarrow=False, xanchor="left", yanchor="middle", font=dict(size=49, family=SANS)),
    dict(xref="paper", yref="paper", x=px(1078), y=py(320), text="▼", showarrow=False,
         xanchor="center", yanchor="middle", font=dict(size=22, family="DejaVu Sans")),
    dict(xref="paper", yref="paper", x=px(1138), y=py(318), text="excluded at combination stage",
         showarrow=False, xanchor="left", yanchor="middle", font=dict(size=49, family=SANS)),
]
# titles
annotations.append(dict(xref="paper", yref="paper", x=0.5, y=py(117),
                        text="Final agreement between individual EPN AC solutions: station GARI00ITA",
                        showarrow=False, xanchor="center", yanchor="middle",
                        font=dict(size=84, family=SERIF, color="black")))
annotations.append(dict(xref="paper", yref="paper", x=px(3178), y=py(37),
                        text="Update: Fri Apr 25 11:37:40 CEST 2025; Last solutions for GPS Week 2357",
                        showarrow=False, xanchor="right", yanchor="middle",
                        font=dict(size=50, family=SERIF, color="#931C1C")))
# axis titles
for label_text, yc in [("North [mm]", 600), ("East [mm]", 1047), ("Up [mm]", 1499)]:
    annotations.append(dict(xref="paper", yref="paper", x=px(39), y=py(yc), text=label_text,
                            textangle=-90, showarrow=False, xanchor="center", yanchor="middle",
                            font=dict(size=65, family=SANS)))
# year labels (kept fully inside the page)
for yl, xat in zip(YEAR_LABELS, YEAR_LABEL_AT):
    annotations.append(dict(xref="x4", yref="paper", x=xat, y=py(2096), text=yl,
                            showarrow=False, xanchor="center", yanchor="bottom",
                            font=dict(size=54, family=SANS)))

layout["shapes"] = shapes
layout["annotations"] = annotations
fig.update_layout(**layout)

fig.write_html("out.html", config={"displayModeBar": False},
               post_script="document.body.style.margin='0';document.body.style.overflow='hidden';")
